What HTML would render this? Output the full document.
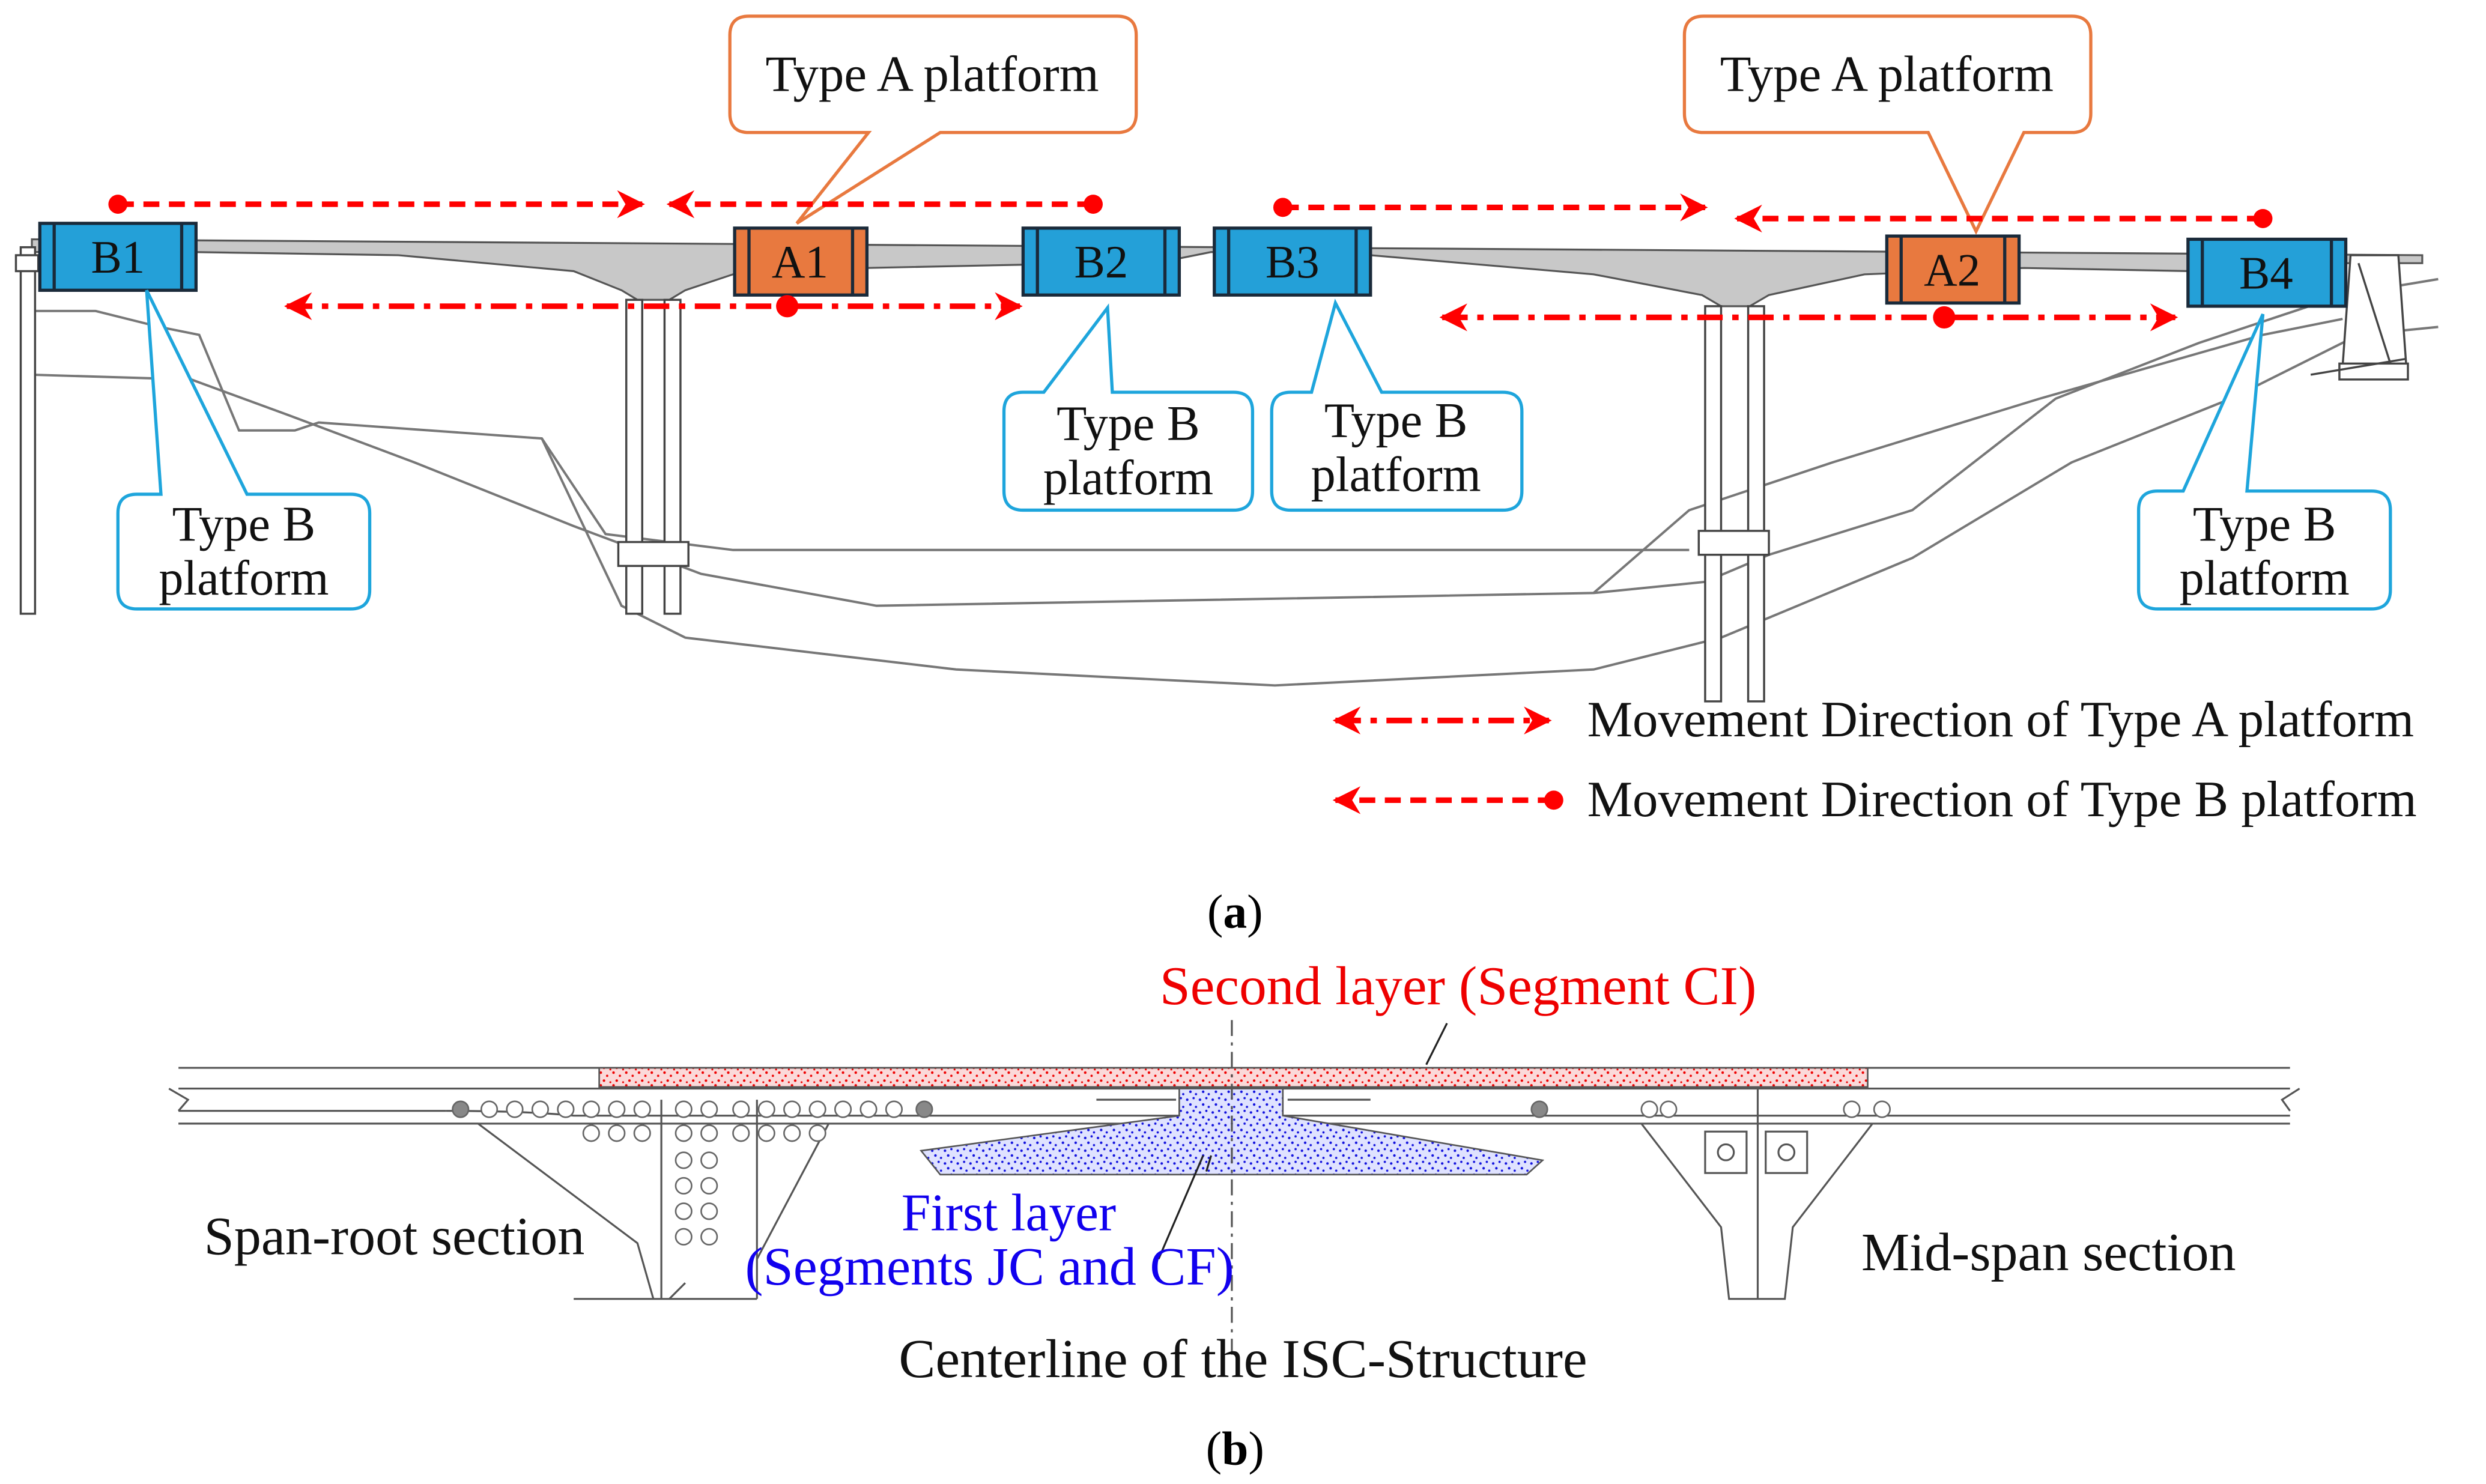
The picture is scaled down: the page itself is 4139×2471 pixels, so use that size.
<!DOCTYPE html>
<html><head><meta charset="utf-8"><style>
html,body{margin:0;padding:0;background:#fff;}
svg{display:block;}
text{font-family:"Liberation Serif",serif;}
</style></head><body>
<svg width="4139" height="2471" viewBox="0 0 1560 931" xmlns="http://www.w3.org/2000/svg">
<defs>
<marker id="ar" viewBox="0 0 10 10" refX="9" refY="5" markerWidth="5" markerHeight="5" orient="auto-start-reverse"><path d="M0,0 L10,5 L0,10 L3,5z" fill="#f00"/></marker>
<pattern id="red" width="8" height="8" patternUnits="userSpaceOnUse"><rect width="8" height="8" fill="#fbd9d9"/><circle cx="1" cy="1" r="0.8" fill="#e00"/><circle cx="5" cy="3" r="0.7" fill="#e00"/><circle cx="3" cy="6" r="0.8" fill="#e00"/><circle cx="7" cy="7" r="0.6" fill="#e00"/></pattern>
<pattern id="blue" width="8" height="8" patternUnits="userSpaceOnUse"><rect width="8" height="8" fill="#dfe2ff"/><circle cx="1" cy="2" r="0.8" fill="#11d"/><circle cx="5" cy="1" r="0.7" fill="#11d"/><circle cx="3" cy="5" r="0.8" fill="#11d"/><circle cx="6.5" cy="6.5" r="0.7" fill="#11d"/></pattern>
</defs>
<g stroke="#777" fill="none" stroke-width="1.5">
<path d="M20,195 L60,195 L100,205 L125,210 L150,270 L185,270 L200,265 L340,275 L380,335 L460,345 L1060,345"/>
<path d="M20,235 L120,238 L180,260 L260,290 L360,330 L440,360 L550,380 L1000,372 L1070,365 L1110,348 L1200,320 L1290,250 L1380,215 L1470,185 L1530,175"/>
<path d="M340,275 L390,380 L430,400 L600,420 L800,430 L1000,420 L1080,400 L1200,350 L1300,290 L1400,250 L1480,210 L1530,205"/>
<path d="M1000,372 L1060,320 L1150,290 L1280,250 L1420,210 L1470,200"/>
</g>
<path d="M20,150 L1520,160 L1520,165 L1470,165 L1375,170 L1270,168 L1170,172 L1110,185 L1098,192 L1080,192 L1068,185 L1000,172 L860,160 L760,158 L740,162 L640,166 L544,168 L460,172 L430,182 L420,188 L400,188 L390,182 L360,170 L250,160 L120,158 L20,158 Z" fill="#c8c8c8" stroke="#555" stroke-width="1.2"/>
<g fill="#fff" stroke="#444" stroke-width="1.3">
<rect x="393" y="188" width="10" height="197"/><rect x="417" y="188" width="10" height="197"/>
<rect x="388" y="340" width="44" height="15"/>
<rect x="1070" y="192" width="10" height="248"/><rect x="1097" y="192" width="10" height="248"/>
<rect x="1066" y="333" width="44" height="15"/>
<rect x="13" y="155" width="9" height="230"/><rect x="10" y="160" width="14" height="10"/>
<path d="M1475,160 L1505,160 L1510,230 L1470,230 Z"/><rect x="1468" y="228" width="43" height="10"/>
<path d="M1450,235 L1510,225 M1480,165 L1500,228"/>
</g>
<g stroke="#1a2a3a" stroke-width="2">
<rect x="25" y="140" width="98" height="42" fill="#24a0d8"/><path d="M34,140V182M114,140V182"/>
<rect x="642" y="143" width="98" height="42" fill="#24a0d8"/><path d="M651,143V185M731,143V185"/>
<rect x="762" y="143" width="98" height="42" fill="#24a0d8"/><path d="M771,143V185M851,143V185"/>
<rect x="1373" y="150" width="99" height="42" fill="#24a0d8"/><path d="M1382,150V192M1463,150V192"/>
<rect x="461" y="143" width="83" height="42" fill="#e8793f"/><path d="M470,143V185M535,143V185"/>
<rect x="1184" y="148" width="83" height="42" fill="#e8793f"/><path d="M1193,148V190M1258,148V190"/>
</g>
<g font-size="29" text-anchor="middle" fill="#111">
<text x="74" y="171">B1</text><text x="691" y="174">B2</text><text x="811" y="174">B3</text><text x="1422" y="181">B4</text>
<text x="502" y="174">A1</text><text x="1225" y="179">A2</text>
</g>
<g fill="#fff" stroke="#e8793f" stroke-width="2">
<path d="M470,10 H701 Q713,10 713,22 V71 Q713,83 701,83 H590 L500,140 L545,83 H470 Q458,83 458,71 V22 Q458,10 470,10Z"/>
<path d="M1069,10 H1300 Q1312,10 1312,22 V71 Q1312,83 1300,83 H1270 L1240,145 L1210,83 H1069 Q1057,83 1057,71 V22 Q1057,10 1069,10Z"/>
</g>
<g fill="#fff" stroke="#1ea5dc" stroke-width="2">
<path d="M86,310 H101 L92,182 L155,310 H220 Q232,310 232,322 V370 Q232,382 220,382 H86 Q74,382 74,370 V322 Q74,310 86,310Z"/>
<path d="M642,246 H655 L695,193 L698,246 H774 Q786,246 786,258 V308 Q786,320 774,320 H642 Q630,320 630,308 V258 Q630,246 642,246Z"/>
<path d="M810,246 H823 L838,190 L867,246 H943 Q955,246 955,258 V308 Q955,320 943,320 H810 Q798,320 798,308 V258 Q798,246 810,246Z"/>
<path d="M1354,308 H1370 L1420,197 L1410,308 H1488 Q1500,308 1500,320 V370 Q1500,382 1488,382 H1354 Q1342,382 1342,370 V320 Q1342,308 1354,308Z"/>
</g>
<g font-size="32" fill="#111" text-anchor="middle">
<text x="585" y="57">Type A platform</text><text x="1184" y="57">Type A platform</text>
</g>
<g font-size="31" fill="#111" text-anchor="middle">
<text x="153" y="339">Type B</text><text x="153" y="373">platform</text>
<text x="708" y="276">Type B</text><text x="708" y="310">platform</text>
<text x="876" y="274">Type B</text><text x="876" y="308">platform</text>
<text x="1421" y="339">Type B</text><text x="1421" y="373">platform</text>
</g>
<g stroke="#f00" stroke-width="3.5" fill="none">
<path d="M74,128 H403" stroke-dasharray="10,6" marker-end="url(#ar)"/>
<path d="M686,128 H420" stroke-dasharray="10,6" marker-end="url(#ar)"/>
<path d="M805,130 H1070" stroke-dasharray="10,6" marker-end="url(#ar)"/>
<path d="M1420,137 H1090" stroke-dasharray="10,6" marker-end="url(#ar)"/>
<path d="M180,192 H640" stroke-dasharray="16,6,4,6" marker-start="url(#ar)" marker-end="url(#ar)"/>
<path d="M905,199 H1365" stroke-dasharray="16,6,4,6" marker-start="url(#ar)" marker-end="url(#ar)"/>
<path d="M838,452 H972" stroke-dasharray="16,6,4,6" marker-start="url(#ar)" marker-end="url(#ar)"/>
<path d="M975,502 H838" stroke-dasharray="10,6" marker-end="url(#ar)"/>
</g>
<g fill="#f00"><circle cx="74" cy="128" r="6"/><circle cx="686" cy="128" r="6"/><circle cx="805" cy="130" r="6"/><circle cx="1420" cy="137" r="6"/><circle cx="494" cy="192" r="7"/><circle cx="1220" cy="199" r="7"/><circle cx="975" cy="502" r="6"/></g>
<g font-size="32" fill="#111">
<text x="996" y="462">Movement Direction of Type A platform</text>
<text x="996" y="512">Movement Direction of Type B platform</text>
</g>
<text x="775" y="582" font-size="30" text-anchor="middle">(<tspan font-weight="bold">a</tspan>)</text>
<text x="915" y="630" font-size="34.5" fill="#e00" text-anchor="middle">Second layer (Segment CI)</text>
<g stroke="#555" stroke-width="1.2" fill="none">
<path d="M112,670 H1437 M112,683 H1437 M106,683 L118,690 L112,697 M1443,683 L1432,690 L1437,697"/>
<path d="M112,705 H280 L300,705 L400,780 L410,815 M112,697 H280"/>
<path d="M280,697 Q330,697 360,700 L1437,700 M112,705 L1437,705"/>
<path d="M360,815 H415 V690 M475,815 V690 M420,815 L430,805 M415,815 L475,815"/>
<path d="M475,790 L520,705"/>
<path d="M1030,705 L1080,770 L1085,815 H1120 L1125,770 L1175,705"/>
<path d="M1103,683 V815"/>
<rect x="1070" y="710" width="26" height="26"/><rect x="1108" y="710" width="26" height="26"/>
<circle cx="1083" cy="723" r="5"/><circle cx="1121" cy="723" r="5"/>
<path d="M688,690 H738 M808,690 H860"/>
</g>
<rect x="376" y="670" width="796" height="12" fill="url(#red)" stroke="#555" stroke-width="1"/>
<path d="M740,683 L805,683 L805,700 L968,728 L958,737 L590,737 L578,722 L740,700 Z" fill="url(#blue)" stroke="#555" stroke-width="1"/>
<g stroke="#666" fill="#fff" stroke-width="1">
<circle cx="289" cy="696" r="5" fill="#888"/><circle cx="580" cy="696" r="5" fill="#888"/><circle cx="966" cy="696" r="5" fill="#888"/>
<circle cx="307" cy="696" r="5"/><circle cx="323" cy="696" r="5"/><circle cx="339" cy="696" r="5"/><circle cx="355" cy="696" r="5"/><circle cx="371" cy="696" r="5"/><circle cx="387" cy="696" r="5"/><circle cx="403" cy="696" r="5"/>
<circle cx="371" cy="711" r="5"/><circle cx="387" cy="711" r="5"/><circle cx="403" cy="711" r="5"/>
<circle cx="429" cy="696" r="5"/><circle cx="445" cy="696" r="5"/><circle cx="429" cy="711" r="5"/><circle cx="445" cy="711" r="5"/>
<circle cx="429" cy="728" r="5"/><circle cx="445" cy="728" r="5"/><circle cx="429" cy="744" r="5"/><circle cx="445" cy="744" r="5"/><circle cx="429" cy="760" r="5"/><circle cx="445" cy="760" r="5"/><circle cx="429" cy="776" r="5"/><circle cx="445" cy="776" r="5"/>
<circle cx="465" cy="696" r="5"/><circle cx="481" cy="696" r="5"/><circle cx="497" cy="696" r="5"/><circle cx="513" cy="696" r="5"/><circle cx="529" cy="696" r="5"/><circle cx="545" cy="696" r="5"/><circle cx="561" cy="696" r="5"/>
<circle cx="465" cy="711" r="5"/><circle cx="481" cy="711" r="5"/><circle cx="497" cy="711" r="5"/><circle cx="513" cy="711" r="5"/>
<circle cx="1035" cy="696" r="5"/><circle cx="1047" cy="696" r="5"/><circle cx="1162" cy="696" r="5"/><circle cx="1181" cy="696" r="5"/>
</g>
<path d="M773,640 V850" stroke="#555" stroke-width="1.2" stroke-dasharray="10,4,2,4"/>
<path d="M908,642 L895,668 M727,790 L755,725 M757,735 L760,725" stroke="#222" stroke-width="1.2"/>
<g font-size="34" fill="#111">
<text x="128" y="787">Span-root section</text>
<text x="1168" y="797">Mid-span section</text>
<text x="780" y="864" text-anchor="middle" font-size="34.5">Centerline of the ISC-Structure</text>
</g>
<g fill="#10e" text-anchor="middle">
<text x="633" y="772" font-size="33">First layer</text>
<text x="621" y="806" font-size="34">(Segments JC and CF)</text>
</g>
<text x="775" y="919" font-size="30" text-anchor="middle">(<tspan font-weight="bold">b</tspan>)</text>
</svg>
</body></html>
